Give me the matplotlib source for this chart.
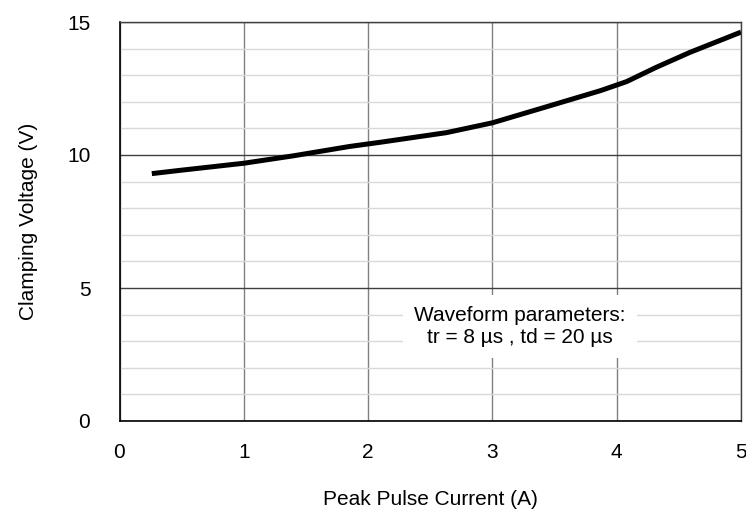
import matplotlib
matplotlib.use("Agg")
import matplotlib.pyplot as plt
import numpy as np

plt.rcParams["font.family"] = ["Liberation Sans", "DejaVu Sans"]

# curve
current = [0.26, 0.5, 1.0, 1.4, 1.85, 2.1, 2.63, 3.0, 3.44, 3.87, 4.0, 4.08, 4.32, 4.59, 4.86, 5.0]
voltage = [9.3, 9.43, 9.69, 9.97, 10.32, 10.48, 10.84, 11.21, 11.82, 12.42, 12.63, 12.76, 13.3, 13.86, 14.36, 14.62]

x_ticks = [0, 1, 2, 3, 4, 5]
y_ticks = [0, 5, 10, 15]

fig = plt.figure(figsize=(7.46, 5.13), dpi=100)
ax = fig.add_axes([119.5 / 746, 1 - 421 / 513, (741 - 119.5) / 746, (421 - 22) / 513])

ax.set_xlim(0, 5)
ax.set_ylim(0, 15)
ax.set_xticks(x_ticks)
ax.set_yticks(y_ticks)
ax.set_yticks(np.arange(0, 16, 1), minor=True)
ax.grid(True, which="minor", axis="y", color="#d9d9d9", linewidth=1)
ax.grid(True, which="major", axis="y", color="#404040", linewidth=1)
ax.grid(True, which="major", axis="x", color="#808080", linewidth=1)
ax.set_axisbelow(True)
ax.tick_params(which="both", length=0, labelsize=15)
ax.tick_params(axis="x", pad=16)
ax.tick_params(axis="y", pad=21)
for s in ["left", "bottom"]:
    ax.spines[s].set_color("black")
    ax.spines[s].set_linewidth(1.2)
for s in ["top", "right"]:
    ax.spines[s].set_color("#404040")
    ax.spines[s].set_linewidth(1)

ax.plot(current, voltage, color="black", linewidth=3.6, solid_capstyle="butt",
        solid_joinstyle="round")

ax.text(3.22, 3.55, "Waveform parameters:\ntr = 8 µs , td = 20 µs",
        ha="center", va="center", fontsize=15, linespacing=1.2,
        bbox=dict(facecolor="white", edgecolor="none", pad=8))

ax.set_xlabel("Peak Pulse Current (A)", fontsize=15, labelpad=20)
ax.set_ylabel("Clamping Voltage (V)", fontsize=15, labelpad=21)

fig.savefig("out.png", dpi=100)
